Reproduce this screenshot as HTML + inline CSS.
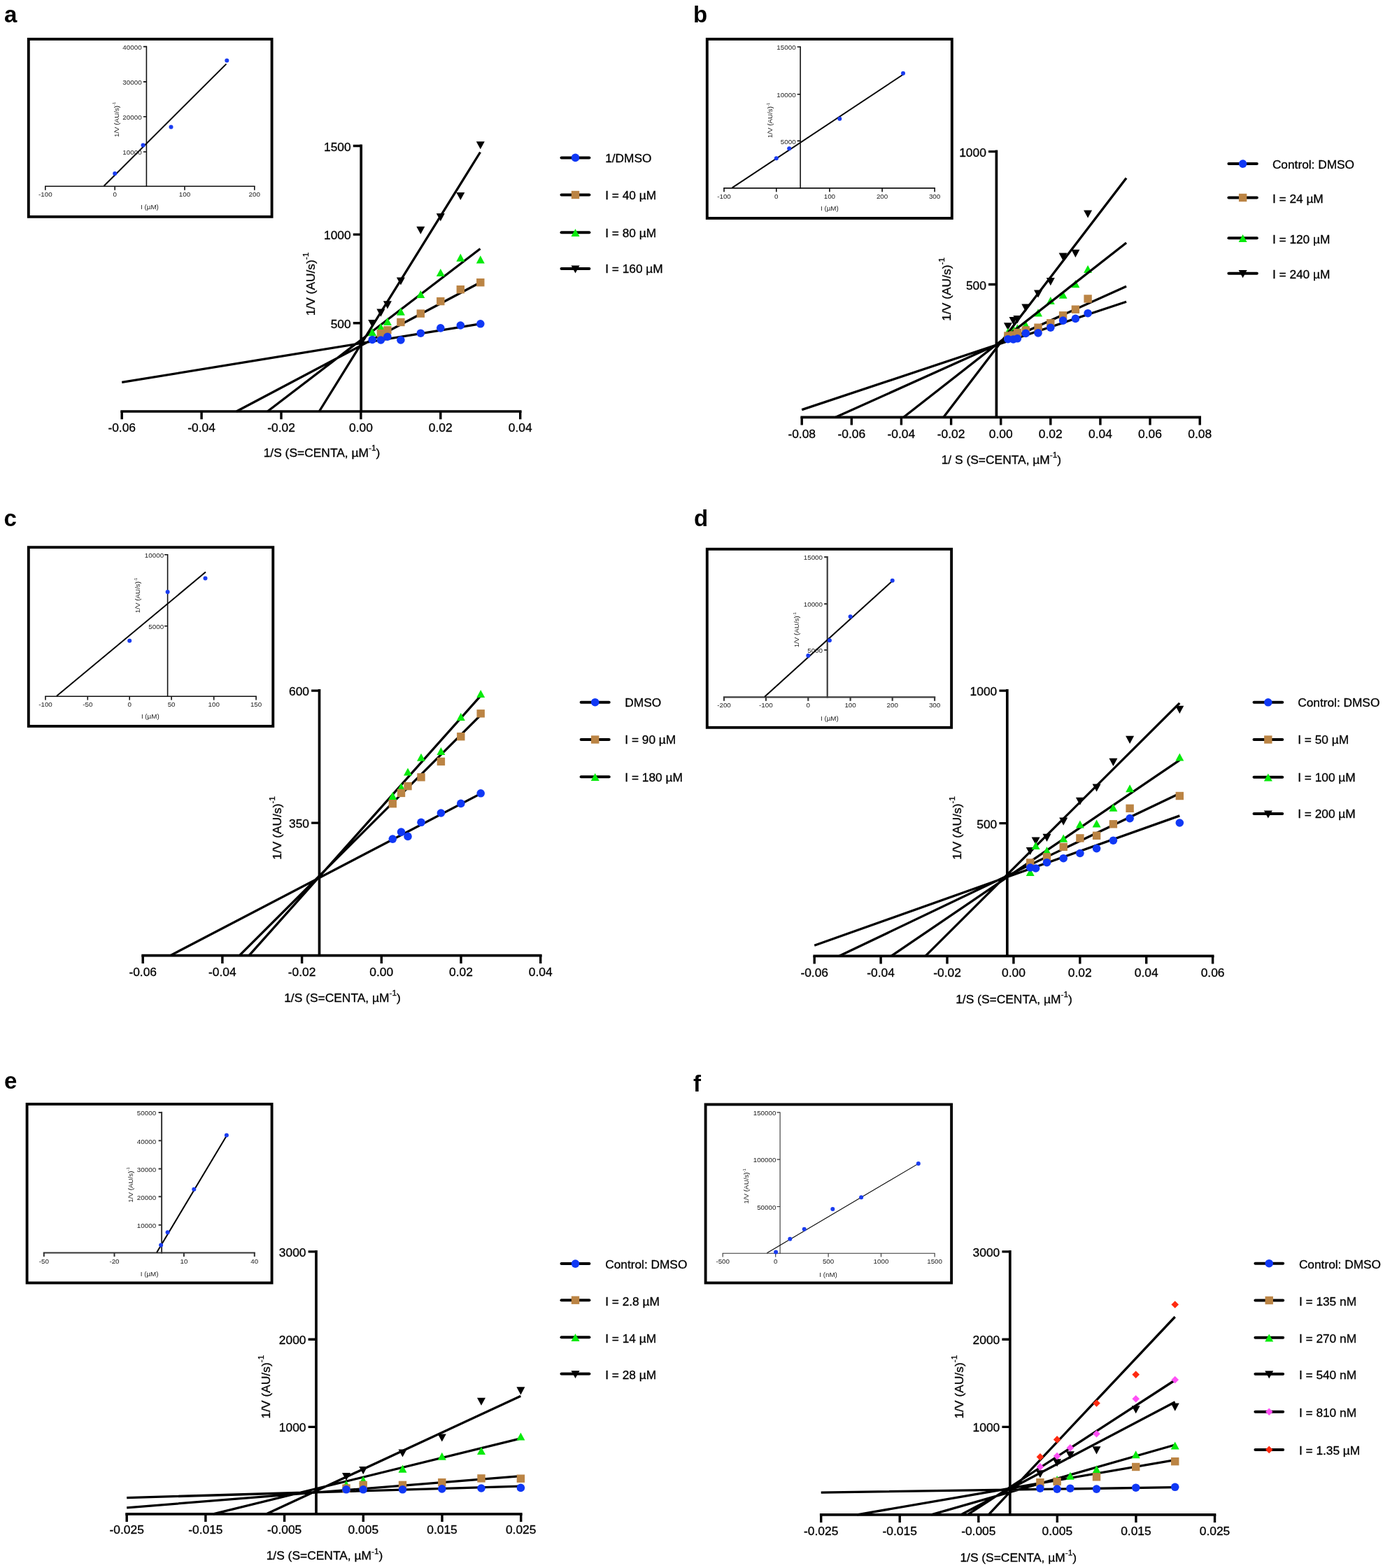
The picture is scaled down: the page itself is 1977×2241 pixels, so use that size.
<!DOCTYPE html>
<html lang="en">
<head>
<meta charset="utf-8">
<title>Lineweaver-Burk plots</title>
<style>
html,body{margin:0;padding:0;background:#fff}
body{width:1977px;height:2241px;overflow:hidden}
svg{display:block;font-family:"Liberation Sans",Arial,Helvetica,sans-serif;font-size:17.4px;fill:#000}
.ax path{fill:none;stroke:#000;stroke-width:3.7}
.ax path.tk{stroke-width:3.4}
.mc text{stroke:#000;stroke-width:.3px}
.ln{fill:none;stroke:#000;stroke-width:3.3}
.lg{fill:none;stroke:#000;stroke-width:4;stroke-linecap:round}
.pl{font-weight:bold;font-size:33px;fill:#000}
.it{fill:#222}
</style>
</head>
<body>
<svg xmlns="http://www.w3.org/2000/svg" width="1977" height="2241" viewBox="0 0 1977 2241">
<rect width="1977" height="2241" fill="#fff"/>
<g id="panel-a">
<text class="pl" x="6" y="32.2">a</text>
<g class="mc">
<g class="ax">
<path d="M172.3 588H745.6"/>
<path d="M516.2 206.5V588"/>
<path class="tk" d="M174.2 588v11.3M288.1 588v11.3M402 588v11.3M515.9 588v11.3M629.8 588v11.3M743.7 588v11.3"/>
<path class="tk" d="M516.2 208.5h-11.4M516.2 335.1h-11.4M516.2 461.7h-11.4"/>
</g>
<g text-anchor="middle">
<text x="174.2" y="617.2">-0.06</text>
<text x="288.1" y="617.2">-0.04</text>
<text x="402" y="617.2">-0.02</text>
<text x="515.9" y="617.2">0.00</text>
<text x="629.8" y="617.2">0.02</text>
<text x="743.7" y="617.2">0.04</text>
</g>
<g text-anchor="end">
<text x="501.7" y="215.5">1500</text>
<text x="501.7" y="342.1">1000</text>
<text x="501.7" y="468.7">500</text>
</g>
<text x="460" y="652.5" text-anchor="middle">1/S (S=CENTA, µM<tspan dy="-8.7" font-size="11.8">-1</tspan><tspan dy="8.7">)</tspan></text>
<text transform="translate(449.5 406) rotate(-90)" text-anchor="middle">1/V (AU/s)<tspan dy="-8.7" font-size="11.8">-1</tspan></text>
<path class="ln" d="M174.2 546.4L686.5 462.8M338 588L686.5 403.7M382.4 588L686.5 355.5M456.3 588L686.5 217.5"/>
<g><path d="M526.2 456.9L538.2 456.9L532.2 468Z" fill="#000"/><path d="M538.4 441.6L550.4 441.6L544.4 452.7Z" fill="#000"/><path d="M547.9 430.3L559.9 430.3L553.9 441.4Z" fill="#000"/><path d="M566.9 396.4L578.9 396.4L572.9 407.5Z" fill="#000"/><path d="M595.3 323.7L607.3 323.7L601.3 334.8Z" fill="#000"/><path d="M623.8 305.1L635.8 305.1L629.8 316.2Z" fill="#000"/><path d="M652.3 274.9L664.3 274.9L658.3 286Z" fill="#000"/><path d="M680.8 202.2L692.8 202.2L686.8 213.3Z" fill="#000"/></g>
<g><path d="M532.2 469.1L538.2 480.2L526.2 480.2Z" fill="#08ea0c"/><path d="M544.4 461.9L550.4 473L538.4 473Z" fill="#08ea0c"/><path d="M553.9 453.8L559.9 464.9L547.9 464.9Z" fill="#08ea0c"/><path d="M572.9 439.6L578.9 450.7L566.9 450.7Z" fill="#08ea0c"/><path d="M601.3 415L607.3 426.1L595.3 426.1Z" fill="#08ea0c"/><path d="M629.8 384L635.8 395.1L623.8 395.1Z" fill="#08ea0c"/><path d="M658.3 362.6L664.3 373.7L652.3 373.7Z" fill="#08ea0c"/><path d="M686.8 365.3L692.8 376.4L680.8 376.4Z" fill="#08ea0c"/></g>
<g><rect x="538.7" y="471" width="11.4" height="11.4" fill="#bb8444"/><rect x="548.2" y="466.1" width="11.4" height="11.4" fill="#bb8444"/><rect x="567.2" y="454.8" width="11.4" height="11.4" fill="#bb8444"/><rect x="595.6" y="442.4" width="11.4" height="11.4" fill="#bb8444"/><rect x="624.1" y="424.9" width="11.4" height="11.4" fill="#bb8444"/><rect x="652.6" y="408" width="11.4" height="11.4" fill="#bb8444"/><rect x="681.1" y="398" width="11.4" height="11.4" fill="#bb8444"/></g>
<g><circle cx="532.2" cy="485.5" r="5.8" fill="#1038f5"/><circle cx="544.4" cy="486" r="5.8" fill="#1038f5"/><circle cx="553.9" cy="481.2" r="5.8" fill="#1038f5"/><circle cx="572.9" cy="486" r="5.8" fill="#1038f5"/><circle cx="601.3" cy="476.2" r="5.8" fill="#1038f5"/><circle cx="629.8" cy="468.9" r="5.8" fill="#1038f5"/><circle cx="658.3" cy="465" r="5.8" fill="#1038f5"/><circle cx="686.8" cy="462.8" r="5.8" fill="#1038f5"/></g>
<path class="lg" d="M802.5 225.4H842.4"/>
<circle cx="822.5" cy="225.4" r="5.8" fill="#1038f5"/>
<text font-size="17.3" x="865.2" y="231.7">1/DMSO</text>
<path class="lg" d="M802.5 278.5H842.4"/>
<rect x="816.8" y="272.8" width="11.4" height="11.4" fill="#bb8444"/>
<text font-size="17.3" x="865.2" y="284.8">I = 40 µM</text>
<path class="lg" d="M802.5 332.2H842.4"/>
<path d="M822.5 326.9L828.5 338L816.5 338Z" fill="#08ea0c"/>
<text font-size="17.3" x="865.2" y="338.5">I = 80 µM</text>
<path class="lg" d="M802.5 384H842.4"/>
<path d="M816.5 379.4L828.5 379.4L822.5 390.5Z" fill="#000"/>
<text font-size="17.3" x="865.2" y="390.3">I = 160 µM</text>
</g>
<rect x="40.8" y="55.9" width="347.8" height="253.9" fill="#fff" stroke="#000" stroke-width="3.9"/>
<g fill="none" stroke="#111" stroke-width="1.6">
<path d="M64 266.3H364.6"/>
<path d="M209.4 65.8V267.1"/>
<path d="M64.8 266.3v5.4M164.2 266.3v5.4M264 266.3v5.4M363.8 266.3v5.4"/>
<path d="M209.4 66.6h-4.5M209.4 116.9h-4.5M209.4 166.8h-4.5M209.4 217h-4.5"/>
</g>
<g class="it" font-size="9.8">
<g text-anchor="middle">
<text x="64.8" y="280.7">-100</text>
<text x="164.2" y="280.7">0</text>
<text x="264" y="280.7">100</text>
<text x="363.8" y="280.7">200</text>
<text x="214" y="299">I (µM)</text>
</g>
<g text-anchor="end">
<text x="202.6" y="70.8">40000</text>
<text x="202.6" y="121.1">30000</text>
<text x="202.6" y="171">20000</text>
<text x="202.6" y="221.2">10000</text>
</g>
<text transform="translate(169.6 170.8) rotate(-90)" text-anchor="middle">1/V (AU/s)<tspan dy="-4.4" font-size="6">-1</tspan></text>
</g>
<path d="M148.6 265.8L323.5 91.4" fill="none" stroke="#000" stroke-width="2"/>
<g fill="#1a3cf0"><circle cx="164.2" cy="248" r="3"/><circle cx="204.5" cy="207.4" r="3"/><circle cx="244.5" cy="181.5" r="3"/><circle cx="324.3" cy="86.5" r="3"/></g>
</g>
<g id="panel-b">
<text class="pl" x="991" y="32.2">b</text>
<g class="mc">
<g class="ax">
<path d="M1144.4 596.3H1717"/>
<path d="M1424.4 214.6V596.3"/>
<path class="tk" d="M1146.2 596.3v11.3M1217.3 596.3v11.3M1288.4 596.3v11.3M1359.6 596.3v11.3M1430.7 596.3v11.3M1501.8 596.3v11.3M1572.9 596.3v11.3M1644 596.3v11.3M1715.2 596.3v11.3"/>
<path class="tk" d="M1424.4 216.6h-11.4M1424.4 406.5h-11.4"/>
</g>
<g text-anchor="middle">
<text x="1146.2" y="625.5">-0.08</text>
<text x="1217.3" y="625.5">-0.06</text>
<text x="1288.4" y="625.5">-0.04</text>
<text x="1359.6" y="625.5">-0.02</text>
<text x="1430.7" y="625.5">0.00</text>
<text x="1501.8" y="625.5">0.02</text>
<text x="1572.9" y="625.5">0.04</text>
<text x="1644" y="625.5">0.06</text>
<text x="1715.2" y="625.5">0.08</text>
</g>
<g text-anchor="end">
<text x="1409.9" y="223.6">1000</text>
<text x="1409.9" y="413.5">500</text>
</g>
<text x="1431.4" y="662.8" text-anchor="middle">1/ S (S=CENTA, µM<tspan dy="-8.7" font-size="11.8">-1</tspan><tspan dy="8.7">)</tspan></text>
<text transform="translate(1358.5 413.4) rotate(-90)" text-anchor="middle">1/V (AU/s)<tspan dy="-8.7" font-size="11.8">-1</tspan></text>
<g><path d="M1434.9 461.2L1446.9 461.2L1440.9 472.3Z" fill="#000"/><path d="M1442.5 452.9L1454.5 452.9L1448.5 464Z" fill="#000"/><path d="M1448.4 451.1L1460.4 451.1L1454.4 462.2Z" fill="#000"/><path d="M1460.3 434.6L1472.3 434.6L1466.3 445.7Z" fill="#000"/><path d="M1478 414.5L1490 414.5L1484 425.6Z" fill="#000"/><path d="M1495.8 397.1L1507.8 397.1L1501.8 408.2Z" fill="#000"/><path d="M1513.6 361.4L1525.6 361.4L1519.6 372.5Z" fill="#000"/><path d="M1531.4 356.8L1543.4 356.8L1537.4 367.9Z" fill="#000"/><path d="M1549.1 300.5L1561.1 300.5L1555.1 311.6Z" fill="#000"/></g>
<g><path d="M1440.9 468.7L1446.9 479.8L1434.9 479.8Z" fill="#08ea0c"/><path d="M1448.5 464.1L1454.5 475.2L1442.5 475.2Z" fill="#08ea0c"/><path d="M1454.4 463.2L1460.4 474.3L1448.4 474.3Z" fill="#08ea0c"/><path d="M1466.3 458.6L1472.3 469.7L1460.3 469.7Z" fill="#08ea0c"/><path d="M1484 441.3L1490 452.4L1478 452.4Z" fill="#08ea0c"/><path d="M1501.8 423.9L1507.8 435L1495.8 435Z" fill="#08ea0c"/><path d="M1519.6 415.6L1525.6 426.7L1513.6 426.7Z" fill="#08ea0c"/><path d="M1537.4 400.1L1543.4 411.2L1531.4 411.2Z" fill="#08ea0c"/><path d="M1555.1 379L1561.1 390.1L1549.1 390.1Z" fill="#08ea0c"/></g>
<path class="ln" d="M1146.2 585.6L1610.1 431.2M1194.6 596.3L1610.1 409.3M1291.7 596.3L1610.1 347M1348.8 596.3L1610.1 254.4"/>
<g><rect x="1435.2" y="474.3" width="11.4" height="11.4" fill="#bb8444"/><rect x="1442.8" y="473.3" width="11.4" height="11.4" fill="#bb8444"/><rect x="1448.7" y="469.8" width="11.4" height="11.4" fill="#bb8444"/><rect x="1460.6" y="466.3" width="11.4" height="11.4" fill="#bb8444"/><rect x="1478.3" y="462.5" width="11.4" height="11.4" fill="#bb8444"/><rect x="1496.1" y="456.1" width="11.4" height="11.4" fill="#bb8444"/><rect x="1513.9" y="445.1" width="11.4" height="11.4" fill="#bb8444"/><rect x="1531.7" y="436.5" width="11.4" height="11.4" fill="#bb8444"/><rect x="1549.4" y="421.3" width="11.4" height="11.4" fill="#bb8444"/></g>
<g><circle cx="1440.9" cy="484.7" r="5.8" fill="#1038f5"/><circle cx="1448.5" cy="485" r="5.8" fill="#1038f5"/><circle cx="1454.4" cy="483.8" r="5.8" fill="#1038f5"/><circle cx="1466.3" cy="476.4" r="5.8" fill="#1038f5"/><circle cx="1484" cy="475.9" r="5.8" fill="#1038f5"/><circle cx="1501.8" cy="468.2" r="5.8" fill="#1038f5"/><circle cx="1519.6" cy="458.1" r="5.8" fill="#1038f5"/><circle cx="1537.4" cy="455.4" r="5.8" fill="#1038f5"/><circle cx="1555.1" cy="447.7" r="5.8" fill="#1038f5"/></g>
<path class="lg" d="M1756.4 234.1H1796.8"/>
<circle cx="1776.6" cy="234.1" r="5.8" fill="#1038f5"/>
<text font-size="17.3" x="1818.9" y="241.4">Control: DMSO</text>
<path class="lg" d="M1756.4 282.5H1796.8"/>
<rect x="1770.9" y="276.8" width="11.4" height="11.4" fill="#bb8444"/>
<text font-size="17.3" x="1818.9" y="289.8">I = 24 µM</text>
<path class="lg" d="M1756.4 340.3H1796.8"/>
<path d="M1776.6 335L1782.6 346.1L1770.6 346.1Z" fill="#08ea0c"/>
<text font-size="17.3" x="1818.9" y="347.6">I = 120 µM</text>
<path class="lg" d="M1756.4 390.7H1796.8"/>
<path d="M1770.6 386.1L1782.6 386.1L1776.6 397.2Z" fill="#000"/>
<text font-size="17.3" x="1818.9" y="398">I = 240 µM</text>
</g>
<rect x="1010.8" y="55.9" width="350" height="256" fill="#fff" stroke="#000" stroke-width="3.9"/>
<g fill="none" stroke="#111" stroke-width="1.6">
<path d="M1034.2 268.9H1336.9"/>
<path d="M1144.1 66.2V269.7"/>
<path d="M1035 268.9v5.4M1109.8 268.9v5.4M1185.9 268.9v5.4M1261.1 268.9v5.4M1336.1 268.9v5.4"/>
<path d="M1144.1 67h-4.5M1144.1 134.7h-4.5M1144.1 201.4h-4.5"/>
</g>
<g class="it" font-size="9.8">
<g text-anchor="middle">
<text x="1035" y="283.5">-100</text>
<text x="1109.8" y="283.5">0</text>
<text x="1185.9" y="283.5">100</text>
<text x="1261.1" y="283.5">200</text>
<text x="1336.1" y="283.5">300</text>
<text x="1185.9" y="301.3">I (µM)</text>
</g>
<g text-anchor="end">
<text x="1137.6" y="71.2">15000</text>
<text x="1137.6" y="138.9">10000</text>
<text x="1137.6" y="205.6">5000</text>
</g>
<text transform="translate(1104 172) rotate(-90)" text-anchor="middle">1/V (AU/s)<tspan dy="-4.4" font-size="6">-1</tspan></text>
</g>
<path d="M1046.6 268.4L1291 106.5" fill="none" stroke="#000" stroke-width="2"/>
<g fill="#1a3cf0"><circle cx="1109.8" cy="226.3" r="3"/><circle cx="1128.2" cy="212.3" r="3"/><circle cx="1200.3" cy="169.7" r="3"/><circle cx="1291" cy="104.7" r="3"/></g>
</g>
<g id="panel-c">
<text class="pl" x="5.6" y="751.8">c</text>
<g class="mc">
<g class="ax">
<path d="M202.3 1365.6H774.6"/>
<path d="M456.5 985V1365.6"/>
<path class="tk" d="M204.2 1365.6v11.3M317.9 1365.6v11.3M431.6 1365.6v11.3M545.3 1365.6v11.3M659 1365.6v11.3M772.7 1365.6v11.3"/>
<path class="tk" d="M456.5 987.1h-11.4M456.5 1176.1h-11.4"/>
</g>
<g text-anchor="middle">
<text x="204.2" y="1394.8">-0.06</text>
<text x="317.9" y="1394.8">-0.04</text>
<text x="431.6" y="1394.8">-0.02</text>
<text x="545.3" y="1394.8">0.00</text>
<text x="659" y="1394.8">0.02</text>
<text x="772.7" y="1394.8">0.04</text>
</g>
<g text-anchor="end">
<text x="442" y="994.1">600</text>
<text x="442" y="1183.1">350</text>
</g>
<text x="489.5" y="1431.7" text-anchor="middle">1/S (S=CENTA, µM<tspan dy="-8.7" font-size="11.8">-1</tspan><tspan dy="8.7">)</tspan></text>
<text transform="translate(401.5 1183.4) rotate(-90)" text-anchor="middle">1/V (AU/s)<tspan dy="-8.7" font-size="11.8">-1</tspan></text>
<path class="ln" d="M243.5 1365.6L686.5 1134.6M342.3 1365.6L686.5 1022.6M356 1365.6L686.5 995.2"/>
<g><path d="M561.3 1131.8L567.3 1142.9L555.3 1142.9Z" fill="#08ea0c"/><path d="M573.5 1119.3L579.5 1130.4L567.5 1130.4Z" fill="#08ea0c"/><path d="M583 1097.4L589 1108.5L577 1108.5Z" fill="#08ea0c"/><path d="M602 1076.7L608 1087.8L596 1087.8Z" fill="#08ea0c"/><path d="M630.4 1067.9L636.4 1079L624.4 1079Z" fill="#08ea0c"/><path d="M658.8 1018.8L664.8 1029.9L652.8 1029.9Z" fill="#08ea0c"/><path d="M687.2 985.9L693.2 997L681.2 997Z" fill="#08ea0c"/></g>
<g><rect x="555.6" y="1143" width="11.4" height="11.4" fill="#bb8444"/><rect x="567.8" y="1127.7" width="11.4" height="11.4" fill="#bb8444"/><rect x="577.3" y="1117.9" width="11.4" height="11.4" fill="#bb8444"/><rect x="596.3" y="1105.1" width="11.4" height="11.4" fill="#bb8444"/><rect x="624.7" y="1082.7" width="11.4" height="11.4" fill="#bb8444"/><rect x="653.1" y="1047" width="11.4" height="11.4" fill="#bb8444"/><rect x="681.5" y="1014.1" width="11.4" height="11.4" fill="#bb8444"/></g>
<g><circle cx="561.3" cy="1199.1" r="5.8" fill="#1038f5"/><circle cx="573.5" cy="1189.1" r="5.8" fill="#1038f5"/><circle cx="583" cy="1195.4" r="5.8" fill="#1038f5"/><circle cx="602" cy="1175.3" r="5.8" fill="#1038f5"/><circle cx="630.4" cy="1162" r="5.8" fill="#1038f5"/><circle cx="658.8" cy="1148.4" r="5.8" fill="#1038f5"/><circle cx="687.2" cy="1133.8" r="5.8" fill="#1038f5"/></g>
<path class="lg" d="M830.6 1003.7H870.7"/>
<circle cx="850.7" cy="1003.7" r="5.8" fill="#1038f5"/>
<text font-size="17.3" x="893.3" y="1010">DMSO</text>
<path class="lg" d="M830.6 1057H870.7"/>
<rect x="845" y="1051.3" width="11.4" height="11.4" fill="#bb8444"/>
<text font-size="17.3" x="893.3" y="1063.3">I = 90 µM</text>
<path class="lg" d="M830.6 1110.3H870.7"/>
<path d="M850.7 1105L856.7 1116.1L844.7 1116.1Z" fill="#08ea0c"/>
<text font-size="17.3" x="893.3" y="1116.6">I = 180 µM</text>
</g>
<rect x="40.8" y="782.2" width="349.5" height="255.7" fill="#fff" stroke="#000" stroke-width="3.9"/>
<g fill="none" stroke="#111" stroke-width="1.6">
<path d="M64.2 995.2H366.9"/>
<path d="M239.6 792V996"/>
<path d="M65 995.2v5.4M125.3 995.2v5.4M185.2 995.2v5.4M245.1 995.2v5.4M305.7 995.2v5.4M366.1 995.2v5.4"/>
<path d="M239.6 792.8h-4.5M239.6 894.8h-4.5"/>
</g>
<g class="it" font-size="9.8">
<g text-anchor="middle">
<text x="65" y="1009.8">-100</text>
<text x="125.3" y="1009.8">-50</text>
<text x="185.2" y="1009.8">0</text>
<text x="245.1" y="1009.8">50</text>
<text x="305.7" y="1009.8">100</text>
<text x="366.1" y="1009.8">150</text>
<text x="214.8" y="1027.2">I (µM)</text>
</g>
<g text-anchor="end">
<text x="234.1" y="797">10000</text>
<text x="234.1" y="899">5000</text>
</g>
<text transform="translate(200 850.9) rotate(-90)" text-anchor="middle">1/V (AU/s)<tspan dy="-4.4" font-size="6">-1</tspan></text>
</g>
<path d="M81 994.7L294 817.6" fill="none" stroke="#000" stroke-width="2"/>
<g fill="#1a3cf0"><circle cx="185.2" cy="915.7" r="3"/><circle cx="239.6" cy="846" r="3"/><circle cx="293.5" cy="826.5" r="3"/></g>
</g>
<g id="panel-d">
<text class="pl" x="992" y="752.2">d</text>
<g class="mc">
<g class="ax">
<path d="M1162.4 1366.3H1735.5"/>
<path d="M1439.8 985V1366.3"/>
<path class="tk" d="M1164.2 1366.3v11.3M1259.1 1366.3v11.3M1354 1366.3v11.3M1448.9 1366.3v11.3M1543.8 1366.3v11.3M1638.7 1366.3v11.3M1733.6 1366.3v11.3"/>
<path class="tk" d="M1439.8 987.1h-11.4M1439.8 1176.6h-11.4"/>
</g>
<g text-anchor="middle">
<text x="1164.2" y="1395.5">-0.06</text>
<text x="1259.1" y="1395.5">-0.04</text>
<text x="1354" y="1395.5">-0.02</text>
<text x="1448.9" y="1395.5">0.00</text>
<text x="1543.8" y="1395.5">0.02</text>
<text x="1638.7" y="1395.5">0.04</text>
<text x="1733.6" y="1395.5">0.06</text>
</g>
<g text-anchor="end">
<text x="1425.3" y="994.1">1000</text>
<text x="1425.3" y="1183.6">500</text>
</g>
<text x="1449.5" y="1433.5" text-anchor="middle">1/S (S=CENTA, µM<tspan dy="-8.7" font-size="11.8">-1</tspan><tspan dy="8.7">)</tspan></text>
<text transform="translate(1373.5 1183.4) rotate(-90)" text-anchor="middle">1/V (AU/s)<tspan dy="-8.7" font-size="11.8">-1</tspan></text>
<path class="ln" d="M1164.2 1351.3L1686.3 1165.9M1199.8 1366.3L1686.3 1133.9M1274 1366.3L1686.3 1086.3M1322.9 1366.3L1686.3 1004.8"/>
<g><path d="M1466.7 1211L1478.7 1211L1472.7 1222.1Z" fill="#000"/><path d="M1474.6 1196.4L1486.6 1196.4L1480.6 1207.5Z" fill="#000"/><path d="M1490.5 1191.8L1502.5 1191.8L1496.5 1202.9Z" fill="#000"/><path d="M1514.2 1168.6L1526.2 1168.6L1520.2 1179.7Z" fill="#000"/><path d="M1537.9 1139.7L1549.9 1139.7L1543.9 1150.8Z" fill="#000"/><path d="M1561.6 1120.4L1573.6 1120.4L1567.6 1131.5Z" fill="#000"/><path d="M1585.4 1083.8L1597.4 1083.8L1591.4 1094.9Z" fill="#000"/><path d="M1609.1 1051.8L1621.1 1051.8L1615.1 1062.9Z" fill="#000"/><path d="M1680.3 1008.8L1692.3 1008.8L1686.3 1019.9Z" fill="#000"/></g>
<g><path d="M1472.7 1240.9L1478.7 1252L1466.7 1252Z" fill="#08ea0c"/><path d="M1480.6 1202.9L1486.6 1214L1474.6 1214Z" fill="#08ea0c"/><path d="M1496.5 1210.1L1502.5 1221.2L1490.5 1221.2Z" fill="#08ea0c"/><path d="M1520.2 1192.6L1526.2 1203.7L1514.2 1203.7Z" fill="#08ea0c"/><path d="M1543.9 1172.5L1549.9 1183.6L1537.9 1183.6Z" fill="#08ea0c"/><path d="M1567.6 1171.4L1573.6 1182.5L1561.6 1182.5Z" fill="#08ea0c"/><path d="M1591.4 1148.7L1597.4 1159.8L1585.4 1159.8Z" fill="#08ea0c"/><path d="M1615.1 1121.2L1621.1 1132.3L1609.1 1132.3Z" fill="#08ea0c"/><path d="M1686.3 1076.4L1692.3 1087.5L1680.3 1087.5Z" fill="#08ea0c"/></g>
<g><rect x="1467" y="1227.3" width="11.4" height="11.4" fill="#bb8444"/><rect x="1490.8" y="1219.1" width="11.4" height="11.4" fill="#bb8444"/><rect x="1514.5" y="1204.7" width="11.4" height="11.4" fill="#bb8444"/><rect x="1538.2" y="1192.2" width="11.4" height="11.4" fill="#bb8444"/><rect x="1561.9" y="1188.6" width="11.4" height="11.4" fill="#bb8444"/><rect x="1585.7" y="1172.1" width="11.4" height="11.4" fill="#bb8444"/><rect x="1609.4" y="1149.6" width="11.4" height="11.4" fill="#bb8444"/><rect x="1680.6" y="1131.8" width="11.4" height="11.4" fill="#bb8444"/></g>
<g><circle cx="1472.7" cy="1240" r="5.8" fill="#1038f5"/><circle cx="1480.6" cy="1241" r="5.8" fill="#1038f5"/><circle cx="1496.5" cy="1232.7" r="5.8" fill="#1038f5"/><circle cx="1520.2" cy="1226.7" r="5.8" fill="#1038f5"/><circle cx="1543.9" cy="1219.5" r="5.8" fill="#1038f5"/><circle cx="1567.6" cy="1212.6" r="5.8" fill="#1038f5"/><circle cx="1591.4" cy="1201.2" r="5.8" fill="#1038f5"/><circle cx="1615.1" cy="1169.6" r="5.8" fill="#1038f5"/><circle cx="1686.3" cy="1176" r="5.8" fill="#1038f5"/></g>
<path class="lg" d="M1792.5 1003.8H1833.2"/>
<circle cx="1812.8" cy="1003.8" r="5.8" fill="#1038f5"/>
<text font-size="17.3" x="1855.2" y="1010.1">Control: DMSO</text>
<path class="lg" d="M1792.5 1057H1833.2"/>
<rect x="1807.1" y="1051.3" width="11.4" height="11.4" fill="#bb8444"/>
<text font-size="17.3" x="1855.2" y="1063.3">I = 50 µM</text>
<path class="lg" d="M1792.5 1110.7H1833.2"/>
<path d="M1812.8 1105.4L1818.8 1116.5L1806.8 1116.5Z" fill="#08ea0c"/>
<text font-size="17.3" x="1855.2" y="1117">I = 100 µM</text>
<path class="lg" d="M1792.5 1163H1833.2"/>
<path d="M1806.8 1158.4L1818.8 1158.4L1812.8 1169.5Z" fill="#000"/>
<text font-size="17.3" x="1855.2" y="1169.3">I = 200 µM</text>
</g>
<rect x="1010.8" y="784.8" width="349.3" height="255" fill="#fff" stroke="#000" stroke-width="3.9"/>
<g fill="none" stroke="#3a3a3a" stroke-width="2.2">
<path d="M1033.9 996.3H1337.2"/>
<path d="M1182.7 795V997.4"/>
<path d="M1035 996.3v5.4M1094.9 996.3v5.4M1155.3 996.3v5.4M1215.6 996.3v5.4M1275.7 996.3v5.4M1336.1 996.3v5.4"/>
<path d="M1182.7 796.1h-4.5M1182.7 863.1h-4.5M1182.7 929h-4.5"/>
</g>
<g class="it" font-size="9.8">
<g text-anchor="middle">
<text x="1035" y="1011.3">-200</text>
<text x="1094.9" y="1011.3">-100</text>
<text x="1155.3" y="1011.3">0</text>
<text x="1215.6" y="1011.3">100</text>
<text x="1275.7" y="1011.3">200</text>
<text x="1336.1" y="1011.3">300</text>
<text x="1185.9" y="1029.5">I (µM)</text>
</g>
<g text-anchor="end">
<text x="1176" y="800.3">15000</text>
<text x="1176" y="867.3">10000</text>
<text x="1176" y="933.2">5000</text>
</g>
<text transform="translate(1142 900.1) rotate(-90)" text-anchor="middle">1/V (AU/s)<tspan dy="-4.4" font-size="6">-1</tspan></text>
</g>
<path d="M1093.1 995.8L1275.7 830.3" fill="none" stroke="#000" stroke-width="2"/>
<g fill="#1a3cf0"><circle cx="1155.3" cy="937" r="3"/><circle cx="1185.9" cy="915.2" r="3"/><circle cx="1215.6" cy="881.3" r="3"/><circle cx="1275.7" cy="829.8" r="3"/></g>
</g>
<g id="panel-e">
<text class="pl" x="6" y="1555.5">e</text>
<g class="mc">
<g class="ax">
<path d="M179.3 2163.8H746.6"/>
<path d="M452 1786.9V2163.8"/>
<path class="tk" d="M181.2 2163.8v11.3M293.9 2163.8v11.3M406.6 2163.8v11.3M519.3 2163.8v11.3M632 2163.8v11.3M744.7 2163.8v11.3"/>
<path class="tk" d="M452 1788.9h-11.4M452 1914.2h-11.4M452 2039.4h-11.4"/>
</g>
<g text-anchor="middle">
<text x="181.2" y="2191.8">-0.025</text>
<text x="293.9" y="2191.8">-0.015</text>
<text x="406.6" y="2191.8">-0.005</text>
<text x="519.3" y="2191.8">0.005</text>
<text x="632" y="2191.8">0.015</text>
<text x="744.7" y="2191.8">0.025</text>
</g>
<g text-anchor="end">
<text x="437.5" y="1795.9">3000</text>
<text x="437.5" y="1921.2">2000</text>
<text x="437.5" y="2046.4">1000</text>
</g>
<text x="464" y="2229.2" text-anchor="middle">1/S (S=CENTA, µM<tspan dy="-8.7" font-size="11.8">-1</tspan><tspan dy="8.7">)</tspan></text>
<text transform="translate(385.8 1982.1) rotate(-90)" text-anchor="middle">1/V (AU/s)<tspan dy="-8.7" font-size="11.8">-1</tspan></text>
<path class="ln" d="M181.2 2140.6L744.3 2124.2M181.2 2154.8L744.3 2109.6M304.7 2163.8L744.3 2055.9M380.9 2163.8L744.3 1995.2"/>
<g><path d="M489 2104.9L501 2104.9L495 2116Z" fill="#000"/><path d="M513.2 2096.1L525.2 2096.1L519.2 2107.2Z" fill="#000"/><path d="M569.5 2071.4L581.5 2071.4L575.5 2082.5Z" fill="#000"/><path d="M625.8 2049.5L637.8 2049.5L631.8 2060.6Z" fill="#000"/><path d="M682 1997.7L694 1997.7L688 2008.8Z" fill="#000"/><path d="M738.4 1982.3L750.4 1982.3L744.4 1993.4Z" fill="#000"/></g>
<g><path d="M495 2116.1L501 2127.2L489 2127.2Z" fill="#08ea0c"/><path d="M519.2 2109.7L525.2 2120.8L513.2 2120.8Z" fill="#08ea0c"/><path d="M575.5 2093.6L581.5 2104.7L569.5 2104.7Z" fill="#08ea0c"/><path d="M631.8 2075.7L637.8 2086.8L625.8 2086.8Z" fill="#08ea0c"/><path d="M688 2068L694 2079.1L682 2079.1Z" fill="#08ea0c"/><path d="M744.4 2047.5L750.4 2058.6L738.4 2058.6Z" fill="#08ea0c"/></g>
<g><rect x="489.3" y="2121.3" width="11.4" height="11.4" fill="#bb8444"/><rect x="513.5" y="2116.7" width="11.4" height="11.4" fill="#bb8444"/><rect x="569.8" y="2116.7" width="11.4" height="11.4" fill="#bb8444"/><rect x="626.1" y="2113" width="11.4" height="11.4" fill="#bb8444"/><rect x="682.3" y="2107.2" width="11.4" height="11.4" fill="#bb8444"/><rect x="738.7" y="2107.5" width="11.4" height="11.4" fill="#bb8444"/></g>
<g><circle cx="495" cy="2128.8" r="5.8" fill="#1038f5"/><circle cx="519.2" cy="2128.8" r="5.8" fill="#1038f5"/><circle cx="575.5" cy="2128.8" r="5.8" fill="#1038f5"/><circle cx="631.8" cy="2127.9" r="5.8" fill="#1038f5"/><circle cx="688" cy="2127" r="5.8" fill="#1038f5"/><circle cx="744.4" cy="2126.4" r="5.8" fill="#1038f5"/></g>
<path class="lg" d="M802.5 1806.1H842.4"/>
<circle cx="822.5" cy="1806.1" r="5.8" fill="#1038f5"/>
<text font-size="17.3" x="865.2" y="1813.4">Control: DMSO</text>
<path class="lg" d="M802.5 1858.2H842.4"/>
<rect x="816.8" y="1852.5" width="11.4" height="11.4" fill="#bb8444"/>
<text font-size="17.3" x="865.2" y="1865.5">I = 2.8 µM</text>
<path class="lg" d="M802.5 1911.3H842.4"/>
<path d="M822.5 1906L828.5 1917.1L816.5 1917.1Z" fill="#08ea0c"/>
<text font-size="17.3" x="865.2" y="1918.6">I = 14 µM</text>
<path class="lg" d="M802.5 1963.5H842.4"/>
<path d="M816.5 1958.9L828.5 1958.9L822.5 1970Z" fill="#000"/>
<text font-size="17.3" x="865.2" y="1970.8">I = 28 µM</text>
</g>
<rect x="38.6" y="1578" width="350" height="255.5" fill="#fff" stroke="#000" stroke-width="3.9"/>
<g fill="none" stroke="#333" stroke-width="2">
<path d="M61.8 1790.5H364.8"/>
<path d="M231.1 1588.9V1791.5"/>
<path d="M62.8 1790.5v5.4M163.5 1790.5v5.4M262.9 1790.5v5.4M363.8 1790.5v5.4"/>
<path d="M231.1 1589.9h-4.5M231.1 1630.3h-4.5M231.1 1670.4h-4.5M231.1 1710.3h-4.5M231.1 1750.7h-4.5"/>
</g>
<g class="it" font-size="9.8">
<g text-anchor="middle">
<text x="62.8" y="1805.8">-50</text>
<text x="163.5" y="1805.8">-20</text>
<text x="262.9" y="1805.8">10</text>
<text x="363.8" y="1805.8">40</text>
<text x="213.6" y="1823.5">I (µM)</text>
</g>
<g text-anchor="end">
<text x="223.1" y="1594.1">50000</text>
<text x="223.1" y="1634.5">40000</text>
<text x="223.1" y="1674.6">30000</text>
<text x="223.1" y="1714.5">20000</text>
<text x="223.1" y="1754.9">10000</text>
</g>
<text transform="translate(189.5 1693.5) rotate(-90)" text-anchor="middle">1/V (AU/s)<tspan dy="-4.4" font-size="6">-1</tspan></text>
</g>
<path d="M224.1 1790L323.9 1623.2" fill="none" stroke="#000" stroke-width="2"/>
<g fill="#1a3cf0"><circle cx="230.1" cy="1779.6" r="3"/><circle cx="239.6" cy="1761.2" r="3"/><circle cx="277.3" cy="1699.7" r="3"/><circle cx="323.9" cy="1622.5" r="3"/></g>
</g>
<g id="panel-f">
<text class="pl" x="991" y="1560.4">f</text>
<g class="mc">
<g class="ax">
<path d="M1171.9 2164.8H1738.3"/>
<path d="M1443.8 1786.9V2164.8"/>
<path class="tk" d="M1173.7 2164.8v11.3M1286.2 2164.8v11.3M1398.8 2164.8v11.3M1511.3 2164.8v11.3M1623.9 2164.8v11.3M1736.5 2164.8v11.3"/>
<path class="tk" d="M1443.8 1788.9h-11.4M1443.8 1914.2h-11.4M1443.8 2039.4h-11.4"/>
</g>
<g text-anchor="middle">
<text x="1173.7" y="2193.6">-0.025</text>
<text x="1286.2" y="2193.6">-0.015</text>
<text x="1398.8" y="2193.6">-0.005</text>
<text x="1511.3" y="2193.6">0.005</text>
<text x="1623.9" y="2193.6">0.015</text>
<text x="1736.5" y="2193.6">0.025</text>
</g>
<g text-anchor="end">
<text x="1429.3" y="1795.9">3000</text>
<text x="1429.3" y="1921.2">2000</text>
<text x="1429.3" y="2046.4">1000</text>
</g>
<text x="1455.7" y="2231.6" text-anchor="middle">1/S (S=CENTA, µM<tspan dy="-8.7" font-size="11.8">-1</tspan><tspan dy="8.7">)</tspan></text>
<text transform="translate(1376.5 1982.1) rotate(-90)" text-anchor="middle">1/V (AU/s)<tspan dy="-8.7" font-size="11.8">-1</tspan></text>
<path class="ln" d="M1173.7 2133.1L1679.7 2125.7M1225.2 2164.8L1679.7 2086.6M1331.2 2164.8L1679.7 2065M1373.9 2164.8L1679.7 2003.7M1383.1 2164.8L1679.7 1972.5M1413.1 2164.8L1679.7 1882"/>
<g><path d="M1480.9 2101.2L1492.9 2101.2L1486.9 2112.3Z" fill="#000"/><path d="M1505.1 2085.2L1517.1 2085.2L1511.1 2096.3Z" fill="#000"/><path d="M1523.9 2074.3L1535.9 2074.3L1529.9 2085.4Z" fill="#000"/><path d="M1561.5 2067.3L1573.5 2067.3L1567.5 2078.4Z" fill="#000"/><path d="M1617.7 2009.2L1629.7 2009.2L1623.7 2020.3Z" fill="#000"/><path d="M1673.7 2005.6L1685.7 2005.6L1679.7 2016.7Z" fill="#000"/></g>
<g><path d="M1486.9 2113.1L1492.9 2124.2L1480.9 2124.2Z" fill="#08ea0c"/><path d="M1511.1 2109.1L1517.1 2120.2L1505.1 2120.2Z" fill="#08ea0c"/><path d="M1529.9 2103.7L1535.9 2114.8L1523.9 2114.8Z" fill="#08ea0c"/><path d="M1567.5 2094.3L1573.5 2105.4L1561.5 2105.4Z" fill="#08ea0c"/><path d="M1623.7 2073.2L1629.7 2084.3L1617.7 2084.3Z" fill="#08ea0c"/><path d="M1679.7 2060.4L1685.7 2071.5L1673.7 2071.5Z" fill="#08ea0c"/></g>
<g><path d="M1486.9 2077L1492.2 2082.3L1486.9 2087.6L1481.6 2082.3Z" fill="#ff2a10"/><path d="M1511.1 2052.1L1516.4 2057.4L1511.1 2062.7L1505.8 2057.4Z" fill="#ff2a10"/><path d="M1567.5 2000.2L1572.8 2005.5L1567.5 2010.8L1562.2 2005.5Z" fill="#ff2a10"/><path d="M1623.7 1959.3L1629 1964.6L1623.7 1969.9L1618.4 1964.6Z" fill="#ff2a10"/><path d="M1679.7 1859.2L1685 1864.5L1679.7 1869.8L1674.4 1864.5Z" fill="#ff2a10"/></g>
<g><path d="M1486.9 2091.1L1492.2 2096.4L1486.9 2101.7L1481.6 2096.4Z" fill="#ff50f5"/><path d="M1511.1 2075.7L1516.4 2081L1511.1 2086.3L1505.8 2081Z" fill="#ff50f5"/><path d="M1529.9 2064L1535.2 2069.3L1529.9 2074.6L1524.6 2069.3Z" fill="#ff50f5"/><path d="M1567.5 2044L1572.8 2049.3L1567.5 2054.6L1562.2 2049.3Z" fill="#ff50f5"/><path d="M1623.7 1994L1629 1999.3L1623.7 2004.6L1618.4 1999.3Z" fill="#ff50f5"/><path d="M1679.7 1966.7L1685 1972L1679.7 1977.3L1674.4 1972Z" fill="#ff50f5"/></g>
<g><rect x="1481.2" y="2113" width="11.4" height="11.4" fill="#bb8444"/><rect x="1505.4" y="2111.7" width="11.4" height="11.4" fill="#bb8444"/><rect x="1561.8" y="2105.1" width="11.4" height="11.4" fill="#bb8444"/><rect x="1618" y="2090.8" width="11.4" height="11.4" fill="#bb8444"/><rect x="1674" y="2083" width="11.4" height="11.4" fill="#bb8444"/></g>
<g><circle cx="1486.9" cy="2127.2" r="5.8" fill="#1038f5"/><circle cx="1511.1" cy="2128.1" r="5.8" fill="#1038f5"/><circle cx="1529.9" cy="2127.2" r="5.8" fill="#1038f5"/><circle cx="1567.5" cy="2128.1" r="5.8" fill="#1038f5"/><circle cx="1623.7" cy="2126.2" r="5.8" fill="#1038f5"/><circle cx="1679.7" cy="2125.3" r="5.8" fill="#1038f5"/></g>
<path class="lg" d="M1794.4 1805.7H1834.1"/>
<circle cx="1814.2" cy="1805.7" r="5.8" fill="#1038f5"/>
<text font-size="17.3" x="1856.9" y="1813">Control: DMSO</text>
<path class="lg" d="M1794.4 1858.5H1834.1"/>
<rect x="1808.5" y="1852.8" width="11.4" height="11.4" fill="#bb8444"/>
<text font-size="17.3" x="1856.9" y="1865.8">I = 135 nM</text>
<path class="lg" d="M1794.4 1911.7H1834.1"/>
<path d="M1814.2 1906.4L1820.2 1917.5L1808.2 1917.5Z" fill="#08ea0c"/>
<text font-size="17.3" x="1856.9" y="1919">I = 270 nM</text>
<path class="lg" d="M1794.4 1963.8H1834.1"/>
<path d="M1808.2 1959.2L1820.2 1959.2L1814.2 1970.3Z" fill="#000"/>
<text font-size="17.3" x="1856.9" y="1971.1">I = 540 nM</text>
<path class="lg" d="M1794.4 2017.8H1834.1"/>
<path d="M1814.2 2012.5L1819.5 2017.8L1814.2 2023.1L1809 2017.8Z" fill="#ff50f5"/>
<text font-size="17.3" x="1856.9" y="2025.1">I = 810 nM</text>
<path class="lg" d="M1794.4 2071.9H1834.1"/>
<path d="M1814.2 2066.6L1819.5 2071.9L1814.2 2077.2L1809 2071.9Z" fill="#ff2a10"/>
<text font-size="17.3" x="1856.9" y="2079.2">I = 1.35 µM</text>
</g>
<rect x="1008.6" y="1578.5" width="351.5" height="255" fill="#fff" stroke="#000" stroke-width="3.9"/>
<g fill="none" stroke="#333" stroke-width="1.1">
<path d="M1032.7 1791.2H1336.6"/>
<path d="M1115.1 1589.4V1791.8"/>
<path d="M1033.2 1791.2v5.4M1108.7 1791.2v5.4M1184.1 1791.2v5.4M1259.5 1791.2v5.4M1336.1 1791.2v5.4"/>
<path d="M1115.1 1589.9h-4.5M1115.1 1657.1h-4.5M1115.1 1724.5h-4.5"/>
</g>
<g class="it" font-size="9.8">
<g text-anchor="middle">
<text x="1033.2" y="1805.8">-500</text>
<text x="1108.7" y="1805.8">0</text>
<text x="1184.1" y="1805.8">500</text>
<text x="1259.5" y="1805.8">1000</text>
<text x="1336.1" y="1805.8">1500</text>
<text x="1184.1" y="1825">I (nM)</text>
</g>
<g text-anchor="end">
<text x="1109.4" y="1594.1">150000</text>
<text x="1109.4" y="1661.3">100000</text>
<text x="1109.4" y="1728.7">50000</text>
</g>
<text transform="translate(1070 1695.3) rotate(-90)" text-anchor="middle">1/V (AU/s)<tspan dy="-4.4" font-size="6">-1</tspan></text>
</g>
<path d="M1096.5 1790.7L1312.8 1663.1" fill="none" stroke="#000" stroke-width="1.1"/>
<g fill="#1a3cf0"><circle cx="1109.1" cy="1789.6" r="3"/><circle cx="1129.3" cy="1770.7" r="3"/><circle cx="1149.7" cy="1756.7" r="3"/><circle cx="1190.3" cy="1727.9" r="3"/><circle cx="1231.1" cy="1711.2" r="3"/><circle cx="1312.8" cy="1663.1" r="3"/></g>
</g>
</svg>
</body>
</html>
